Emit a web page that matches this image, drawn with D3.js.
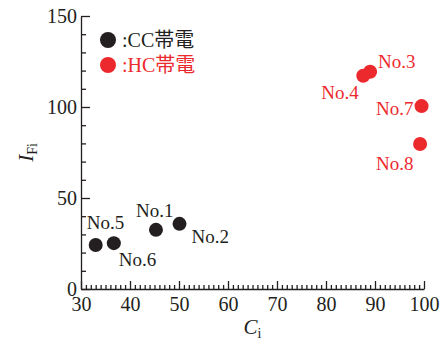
<!DOCTYPE html>
<html>
<head>
<meta charset="utf-8">
<script src="https://cdn.jsdelivr.net/npm/d3@7"></script>
<style>
  html, body { margin: 0; padding: 0; background: #fff; }
  svg { display: block; }
  text { font-family: "Liberation Serif", "Times New Roman", "Noto Sans CJK JP", serif; }
</style>
</head>
<body>
<svg id="chart" width="443" height="343"></svg>
<script>
// Sample names, charge type and measured values
const names   = ["No.1", "No.2", "No.3", "No.4", "No.5", "No.6", "No.7", "No.8"];
const groups  = ["CC", "CC", "HC", "HC", "CC", "CC", "HC", "HC"];
const ciVals  = [45.3, 50.1, 89.0, 87.6, 33.0, 36.7, 99.5, 99.2];
const ifiVals = [32.5, 35.8, 119.4, 117.2, 24.2, 25.2, 100.5, 79.7];

// Legend entries
const legendKeys   = ["CC", "HC"];
const legendLabels = [":CC帯電", ":HC帯電"];

// Axis ticks
const xTicks = [30, 40, 50, 60, 70, 80, 90, 100];
const yTicks = [0, 50, 100, 150];

// Label placement relative to each point (pixels)
const labelDx = [-20, 12, 8, -42, -9, 5, -45.5, -44];
const labelDy = [-13, 19, -4, 23, -16, 23, 9, 26];

const colors = { CC: "#231f20", HC: "#ec2a2e" };
const axisColor = "#231f20";

const svg = d3.select("#chart");
const x = d3.scaleLinear().domain([30, 100]).range([81, 424]);
const y = d3.scaleLinear().domain([0, 150]).range([289, 16]);

// Minor ticks (inward)
const xMinor = d3.range(30, 101, 1).filter(v => !xTicks.includes(v));
const yMinor = d3.range(0, 151, 10).filter(v => !yTicks.includes(v));

const gxMinor = svg.append("g").attr("transform", `translate(0,${y(0)})`)
  .call(d3.axisBottom(x).tickValues(xMinor).tickSize(-4).tickSizeOuter(0).tickFormat(""));
gxMinor.select(".domain").remove();

const gyMinor = svg.append("g").attr("transform", `translate(${x(30)},0)`)
  .call(d3.axisLeft(y).tickValues(yMinor).tickSize(-5).tickSizeOuter(0).tickFormat(""));
gyMinor.select(".domain").remove();

// Major axes
const gx = svg.append("g").attr("transform", `translate(0,${y(0)})`)
  .call(d3.axisBottom(x).tickValues(xTicks).tickSizeInner(-8).tickSizeOuter(0).tickPadding(8).tickFormat(d3.format("d")));

const gy = svg.append("g").attr("transform", `translate(${x(30)},0)`)
  .call(d3.axisLeft(y).tickValues(yTicks).tickSizeInner(-9).tickSizeOuter(0).tickPadding(4).tickFormat(d3.format("d")));

svg.selectAll(".domain, .tick line")
  .attr("stroke", axisColor).attr("stroke-width", 1.3);
[gx, gy].forEach(g => g.selectAll(".tick text")
  .attr("fill", axisColor)
  .style("font-family", "'Liberation Serif', serif")
  .style("font-size", "20px"));
gy.selectAll(".tick text").attr("x", -4);

// Axis titles
const xt = svg.append("text")
  .attr("x", (x(30) + x(100)) / 2).attr("y", 334)
  .attr("text-anchor", "middle").attr("fill", axisColor)
  .style("font-size", "21px");
xt.append("tspan").style("font-style", "italic").text("C");
xt.append("tspan").attr("dy", 4).style("font-size", "14px").text("i");

const yt = svg.append("text")
  .attr("transform", `translate(33,${(y(0) + y(150)) / 2}) rotate(-90)`)
  .attr("text-anchor", "middle").attr("fill", axisColor)
  .style("font-size", "21px");
yt.append("tspan").style("font-style", "italic").text("I");
yt.append("tspan").attr("dy", 4).style("font-size", "14px").text("Fi");

// Points
const pts = names.map((n, i) => ({ n, g: groups[i], ci: ciVals[i], ifi: ifiVals[i], dx: labelDx[i], dy: labelDy[i] }));

svg.append("g").selectAll("circle").data(pts).join("circle")
  .attr("cx", d => x(d.ci)).attr("cy", d => y(d.ifi)).attr("r", 7)
  .attr("fill", d => colors[d.g]);

svg.append("g").selectAll("text").data(pts).join("text")
  .attr("x", d => x(d.ci) + d.dx).attr("y", d => y(d.ifi) + d.dy)
  .attr("fill", d => colors[d.g])
  .style("font-size", "19px")
  .text(d => d.n);

// Legend
const lg = svg.append("g");
legendKeys.forEach((k, i) => {
  lg.append("circle").attr("cx", 108).attr("cy", 40 + i * 25).attr("r", 8).attr("fill", colors[k]);
  lg.append("text").attr("x", 122).attr("y", 47 + i * 25)
    .attr("fill", colors[k]).style("font-size", "20px")
    .text(legendLabels[i]);
});
</script>
</body>
</html>
